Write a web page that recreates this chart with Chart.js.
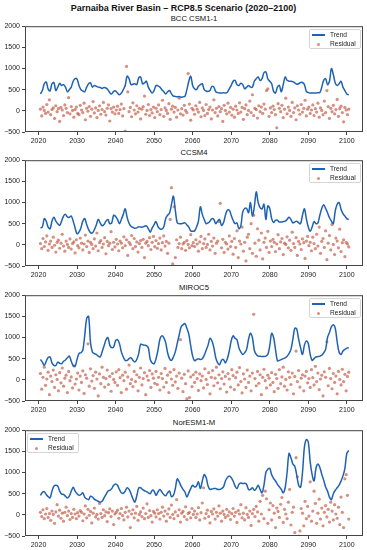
<!DOCTYPE html>
<html>
<head>
<meta charset="utf-8">
<script src="https://cdn.jsdelivr.net/npm/chart.js@4.4.0/dist/chart.umd.min.js"></script>
<style>
  html, body { margin: 0; padding: 0; background: #fff; }
  body {
    width: 367px; height: 550px; position: relative; overflow: hidden;
    font-family: "Liberation Sans", Arial, sans-serif; color: #111;
  }
  .title {
    position: absolute; left: 0; top: 2px; width: 367px; text-align: center;
    font-weight: bold; font-size: 9px; line-height: 12px;
  }
  .subtitle {
    position: absolute; left: 25px; width: 338px; text-align: center;
    font-size: 7.7px; line-height: 10px;
  }
  .panel { position: absolute; left: 0; width: 367px; height: 126px; }
  .legend {
    position: absolute; width: 52px; height: 20px; box-sizing: border-box;
    border: 1px solid #d4d4d4; border-radius: 2px; background: rgba(255, 255, 255, 0.85);
    font-size: 6.6px; color: #222;
  }
  .legend .swatch-line { position: absolute; left: 2px; top: 4px; width: 13px; height: 1.5px; }
  .legend .swatch-dot { position: absolute; left: 7px; top: 13px; width: 3px; height: 3px; border-radius: 50%; }
  .legend .txt { position: absolute; left: 20px; line-height: 8px; white-space: nowrap; }
</style>
</head>
<body>
<div class="title">Parnaiba River Basin – RCP8.5 Scenario (2020–2100)</div>
<script>
const X_TICKS = [2020, 2030, 2040, 2050, 2060, 2070, 2080, 2090, 2100];
const Y_TICKS = [-500, 0, 500, 1000, 1500, 2000];
const MODELS = ["BCC CSM1-1", "CCSM4", "MIROC5", "NorESM1-M"];
const SERIES_NAMES = ["Trend", "Residual"];

// trend sampled every half year from 2020.5, residuals every third of a year
const TREND_START = 2020.5;
const TREND_STEP = 0.5;
const RESID_START = 2020.5;
const RESID_STEP = 1 / 3;

const TREND_BCC = [
  400,
  480, 640, 680, 520, 470, 640, 670, 480, 560, 650, 600, 620, 560, 450, 500, 560, 700, 760, 750, 600,
  500, 470, 450, 560, 640, 660, 560, 600, 580, 560, 550, 530, 550, 540, 500, 430, 400, 460, 470, 420,
  380, 420, 500, 600, 820, 760, 620, 630, 640, 620, 780, 800, 640, 660, 700, 560, 480, 420, 480, 600,
  590, 560, 500, 450, 400, 450, 480, 400, 350, 340, 330, 340, 320, 330, 340, 500, 700, 820, 600, 520,
  500, 580, 620, 640, 500, 470, 460, 480, 580, 560, 450, 430, 420, 420, 430, 420, 440, 520, 600, 700,
  720, 620, 600, 650, 620, 520, 560, 600, 560, 560, 700, 760, 800, 720, 760, 900, 920, 760, 700, 640,
  460, 420, 560, 600, 450, 620, 800, 720, 700, 700, 690, 660, 630, 640, 670, 670, 620, 460, 430, 420,
  420, 420, 420, 430, 430, 560, 720, 760, 620, 700, 1000, 860, 660, 600, 640, 700, 560, 480, 400, 380
];
const TREND_CCSM4 = [
  400,
  420, 620, 560, 420, 380, 560, 650, 560, 500, 460, 560, 680, 720, 660, 650, 680, 560, 400, 260, 300,
  400, 560, 620, 480, 360, 290, 280, 360, 470, 600, 520, 450, 480, 560, 600, 500, 520, 700, 670, 600,
  500, 600, 720, 850, 650, 510, 440, 410, 390, 400, 430, 420, 420, 440, 450, 380, 300, 400, 480, 550,
  430, 380, 370, 420, 620, 700, 750, 950, 1150, 820, 520, 500, 500, 510, 520, 470, 420, 330, 320, 330,
  420, 560, 900, 720, 600, 500, 520, 560, 620, 600, 500, 560, 600, 460, 520, 700, 820, 820, 700, 580,
  500, 520, 380, 450, 780, 860, 860, 760, 1000, 680, 900, 1250, 1000, 880, 850, 960, 600, 920, 860, 620,
  530, 580, 580, 540, 540, 550, 560, 600, 650, 600, 520, 540, 560, 520, 500, 700, 850, 620, 420, 320,
  420, 550, 500, 520, 700, 860, 950, 860, 760, 640, 560, 500, 800, 960, 1000, 840, 740, 680, 620, 600
];
const TREND_MIROC5 = [
  480,
  420, 340, 440, 530, 540, 400, 340, 340, 420, 390, 380, 440, 470, 520, 560, 440, 340, 320, 480, 620,
  640, 700, 1050, 1450, 1500, 880, 660, 620, 600, 560, 540, 660, 800, 940, 1000, 820, 760, 780, 920, 950,
  860, 660, 540, 460, 460, 500, 520, 460, 420, 480, 620, 840, 830, 820, 810, 760, 480, 400, 380, 500,
  700, 960, 1040, 1000, 880, 640, 500, 460, 540, 660, 860, 1060, 1250, 1300, 1330, 1220, 1080, 800, 560, 450,
  480, 500, 480, 500, 580, 700, 820, 980, 920, 760, 520, 400, 360, 460, 480, 400, 500, 680, 920, 1040,
  980, 950, 760, 660, 600, 640, 720, 960, 1100, 1000, 700, 600, 560, 560, 550, 550, 560, 600, 800, 1100,
  1000, 720, 450, 460, 480, 500, 520, 560, 620, 720, 960, 1220, 1200, 960, 760, 600, 820, 920, 860, 600,
  460, 500, 540, 550, 560, 580, 640, 720, 1000, 1120, 1250, 1300, 1220, 900, 650, 600, 680, 720, 750, 760
];
const TREND_NORESM = [
  460,
  530, 550, 480, 430, 400, 560, 680, 700, 680, 560, 490, 480, 440, 400, 440, 560, 650, 560, 500, 460,
  480, 520, 420, 380, 360, 440, 420, 370, 340, 320, 300, 320, 400, 480, 560, 580, 620, 700, 730, 700,
  600, 520, 510, 560, 640, 600, 500, 380, 300, 450, 630, 640, 600, 570, 550, 520, 500, 580, 560, 460,
  540, 600, 540, 480, 450, 520, 560, 430, 460, 620, 850, 780, 680, 600, 540, 420, 520, 620, 700, 660,
  680, 780, 620, 800, 950, 880, 680, 600, 610, 620, 620, 600, 600, 620, 660, 800, 880, 920, 880, 800,
  680, 620, 720, 750, 740, 745, 720, 600, 600, 640, 580, 620, 700, 600, 520, 700, 1000, 1080, 1100, 950,
  860, 800, 720, 660, 600, 520, 640, 1000, 1450, 1350, 1200, 1150, 940, 700, 650, 1000, 1600, 1780, 1720, 1250,
  950, 800, 1100, 1200, 1120, 960, 820, 660, 560, 420, 360, 500, 580, 640, 700, 800, 920, 1100, 1450, 1520
];

const RESID_BCC = [
  40, -120, 90, 10, -60, 150, -30, 260, -90, 30,
  70, -180, 120, -20, 50, -250, 80, 20, -110, 140,
  60, -40, 310, -70, 100, 10, -150, 30, 90, -60,
  -90, 130, 20, -40, 180, -210, 60, -10, 100, -130,
  40, 220, -50, 70, -160, 10, 120, -80, 30, 200,
  -20, -100, 60, 140, -240, 50, -30, 90, -70, 20,
  110, -60, 30, 160, -120, 50, -480, 1050, 450, -20,
  80, -140, 190, 20, -70, 120, -30, 60, -190, 40,
  100, 350, -80, 10, 150, -110, 30, -50, 90, -160,
  60, -20, 140, -90, 30, 250, -130, 70, 10, -60,
  170, -200, 40, 110, -30, 80, -150, 20, 300, -70,
  50, -100, 130, 10, -40, 880, 160, -220, 60, 20,
  -80, 120, 40, -30, 200, -140, 70, 10, -110, 150,
  -60, 30, 90, -190, 20, 260, -40, 60, -120, 100,
  -20, 50, -250, 130, 10, -70, 180, -30, 80, -100,
  40, -150, 110, 20, -60, 190, -30, 80, -200, 50,
  140, -90, 10, 230, -40, 380, -110, 60, 30, -170,
  120, -20, 90, -60, 160, 40, 480, 520, -130, 70,
  -40, 110, 30, -90, -400, 170, 60, -20, 130, -160,
  40, 300, -70, 90, 10, -130, 200, -40, 70, -210,
  120, 20, -80, 150, -30, 60, 250, -120, 40, 90,
  -60, 20, 140, -110, 50, -30, 180, -150, 70, 10,
  -90, 230, -40, 480, 100, -180, 60, -20, 130, -70,
  30, 270, -130, 50, 110, -40, -260, 80, 20, -90,
  40
];
const RESID_CCSM4 = [
  30, -90, 150, -40, 70, 210, -130, 20, 90, -60,
  180, -10, -170, 60, 110, -80, 40, 250, -30, -150,
  90, 10, -60, 140, -100, 30, 70, -190, 120, -20,
  -70, 160, 40, -120, 20, 230, -40, 90, -180, 60,
  10, -90, 140, -30, 280, -140, 50, 100, -60, 20,
  170, -210, 80, -20, 40, 310, -110, 60, -50, 130,
  20, -140, 90, 40, -70, 190, -20, 120, -250, 60,
  10, 220, -90, 150, -40, 70, -170, 30, 100, -60,
  130, -300, 40, 80, -20, 170, -110, 60, 200, -40,
  100, -80, 30, 160, -120, 50, 210, -30, 80, -200,
  40, 600, 1350, -450, 900, -300, 120, -60, 30, 180,
  -90, 20, 60, -130, 100, 10, -70, 240, -20, 50,
  -40, 120, 20, -150, 70, 200, -90, 30, 140, -60,
  10, 250, -120, 80, -30, 160, -200, 40, 90, 550,
  980, -70, 130, -180, 60, 20, -100, 210, -40, 80,
  -220, 150, -60, 330, -300, 90, 20, 420, -150, 60,
  -380, 180, 250, -90, 500, -200, 700, 40, -270, 380,
  110, -120, 280, -330, 60, 160, -60, 320, -180, 90,
  -40, 130, 60, -160, 20, 240, -90, 70, 150, -230,
  40, 10, 190, -70, 110, -130, 300, 30, -60, 170,
  -250, 80, 20, -110, 140, 50, -320, 90, 200, -20,
  60, -140, 180, 30, -90, 250, -30, 420, -200, 80,
  150, -60, 330, -350, 40, 220, -120, 480, 10, -230,
  160, 90, -70, 370, -160, 50, 120, -280, 60, 20,
  -50
];
const RESID_MIROC5 = [
  150, -220, 60, 300, -130, 20, 180, -350, 90, -40,
  230, -180, 120, 10, -260, 170, -70, 280, -150, 40,
  110, -300, 200, -20, 70, -190, 330, -100, 20, 160,
  -240, 90, -60, 210, -320, 120, 40, 850, -150, 260,
  -30, 100, -200, 180, 20, -380, 140, -90, 300, 60,
  -170, 30, 230, -110, 80, -270, 150, 10, -60, 190,
  -130, 240, 50, -300, 110, -20, 180, -220, 70, 350,
  -90, 10, -160, 200, -40, 120, -260, 60, 280, -120,
  30, 170, -350, 90, -10, 220, -180, 140, 40, -80,
  200, -110, 60, -240, 150, 30, -170, 270, -60, 110,
  -300, 180, 20, -130, 240, -50, 90, -200, 160, 950,
  40, -280, 130, -90, -450, 210, -420, 70, -160, 120,
  -60, 180, 30, -250, 140, -20, 90, -190, 260, 10,
  -110, 170, -330, 60, 220, -140, 40, 300, -70, 120,
  -210, 30, 190, -100, 80, -290, 150, 20, -170, 240,
  100, -230, 50, 180, -120, 290, -40, -310, 140, 20,
  -180, 230, -60, 90, -260, 160, 1550, 30, -140, 200,
  -80, 120, -350, 60, 250, -20, -190, 110, 40, -120,
  170, -60, -280, 130, 30, -200, 240, -90, 70, 300,
  -150, 10, -240, 190, 60, -110, 160, -330, 80, 680,
  -40, 220, -170, 40, 120, -260, 90, 200, -70, 30,
  -180, 240, 50, -120, 320, -40, 160, -230, 20, 110,
  -380, 190, 60, 900, -140, 270, 30, -210, 150, -60,
  90, -330, 200, 10, -120, 250, -40, 130, -260, 80,
  180
];
const RESID_NORESM = [
  60, -40, 120, -90, 20, 150, -60, 30, -130, 90,
  10, -200, 70, 240, -30, 110, -80, 40, -150, 60,
  180, -20, 90, -110, 30, -60, 130, 20, -90, 50,
  -30, 100, 60, -140, 20, 210, -70, 130, -10, 80,
  -190, 40, 160, -50, 10, -100, 270, 30, -60, 120,
  -20, 70, -160, 50, 140, -40, 90, -230, 20, 60,
  110, -80, 30, 150, -20, -120, 60, 180, -50, 90,
  -300, 20, 120, -70, 40, 200, -130, 10, 70, -40,
  160, -90, 30, 260, -60, 100, -20, -170, 80, 40,
  -50, 120, 30, -100, 60, 180, -30, 90, -150, 20,
  140, -60, 230, 10, -90, 70, 360, -20, 120, -170,
  40, 80, -40, 190, -110, 30, 60, -70, 150, 10,
  90, -60, 20, 170, -120, 50, 280, 640, -80, 30,
  110, -40, -190, 80, 20, 140, -100, 60, -30, 210,
  40, -150, 90, 10, -60, 130, -20, 70, -110, 30,
  150, -30, 60, -180, 100, 20, 240, -70, 40, -120,
  170, 10, -60, 90, -250, 30, 130, -40, 200, 70,
  -150, 320, 20, 460, -90, 560, 380, -200, 120, 280,
  -120, 220, 40, -300, 160, 80, -60, 250, 410, -180,
  130, 20, -90, 300, 600, -240, 60, 180, -420, 1350,
  900, -500, -380, 150, 40, -260, 320, -90, 200, -30,
  780, -150, 90, 560, 270, -200, 40, 370, -100, 160,
  -260, 60, 220, -50, 130, -170, 300, 90, -120, 240,
  20, -80, 180, -230, 420, 60, -300, 850, 950, 460,
  -100
];

const TRENDS = [TREND_BCC, TREND_CCSM4, TREND_MIROC5, TREND_NORESM];
const RESIDUALS = [RESID_BCC, RESID_CCSM4, RESID_MIROC5, RESID_NORESM];

const PANEL_TOPS = [26, 160, 295, 430];
const PLOT_LEFT = 25;
const PLOT_RIGHT = 363;
const TOP_PAD = 6;
const TREND_COLOR = "#1f62b3";
const RESID_COLOR = "rgba(185, 70, 45, 0.6)";
const FONT = "'Liberation Sans', Arial, sans-serif";

function toPoints(values, start, step) {
  return values.map((v, i) => ({ x: start + i * step, y: v }));
}

const framePlugin = {
  id: "frame",
  afterDatasetsDraw(chart) {
    const { ctx, chartArea: a } = chart;
    ctx.save();
    ctx.strokeStyle = "#444";
    ctx.lineWidth = 1;
    ctx.strokeRect(a.left + 0.5, a.top + 0.5, a.right - a.left - 1, a.bottom - a.top - 1);
    ctx.restore();
  },
};

function addLegend(top, side) {
  const box = document.createElement("div");
  box.className = "legend";
  box.style.top = top + 3 + "px";
  if (side === "right") box.style.left = PLOT_RIGHT - 2 - 52 + "px";
  else box.style.left = PLOT_LEFT + 2 + "px";
  box.innerHTML = `
    <div class="swatch-line" style="background:${TREND_COLOR}"></div>
    <div class="txt" style="top:0.5px">${SERIES_NAMES[0]}</div>
    <div class="swatch-dot" style="background:${RESID_COLOR}"></div>
    <div class="txt" style="top:10px">${SERIES_NAMES[1]}</div>
  `;
  document.body.appendChild(box);
}

function renderPanel(i) {
  const top = PANEL_TOPS[i];

  const sub = document.createElement("div");
  sub.className = "subtitle";
  sub.style.top = top - 12 + "px";
  sub.textContent = MODELS[i];
  document.body.appendChild(sub);

  const wrap = document.createElement("div");
  wrap.className = "panel";
  wrap.style.top = top - TOP_PAD + "px";
  const canvas = document.createElement("canvas");
  canvas.width = 367;
  canvas.height = 126;
  wrap.appendChild(canvas);
  document.body.appendChild(wrap);

  new Chart(canvas, {
    type: "scatter",
    data: {
      datasets: [
        {
          label: SERIES_NAMES[0],
          data: toPoints(TRENDS[i], TREND_START, TREND_STEP),
          showLine: true,
          borderColor: TREND_COLOR,
          borderWidth: 1.5,
          pointRadius: 0,
          tension: 0.35,
        },
        {
          label: SERIES_NAMES[1],
          data: toPoints(RESIDUALS[i], RESID_START, RESID_STEP),
          backgroundColor: RESID_COLOR,
          borderWidth: 0,
          pointRadius: 1.6,
        },
      ],
    },
    options: {
      responsive: false,
      animation: false,
      events: [],
      layout: { padding: { top: TOP_PAD, right: 367 - PLOT_RIGHT, left: 0, bottom: 0 } },
      plugins: { legend: { display: false }, tooltip: { enabled: false } },
      scales: {
        x: {
          type: "linear",
          min: 2016.5,
          max: 2104.2,
          afterBuildTicks: (s) => { s.ticks = X_TICKS.map((v) => ({ value: v })); },
          afterFit: (s) => { s.height = 14; },
          border: { display: false },
          grid: { drawOnChartArea: false, drawTicks: true, tickLength: 3, color: "#444" },
          ticks: { padding: 2, color: "#222", font: { family: FONT, size: 7 }, maxRotation: 0, callback: (v) => String(v) },
        },
        y: {
          min: -500,
          max: 2000,
          afterBuildTicks: (s) => { s.ticks = Y_TICKS.map((v) => ({ value: v })); },
          afterFit: (s) => { s.width = PLOT_LEFT; },
          border: { display: false },
          grid: { drawOnChartArea: false, drawTicks: true, tickLength: 3, color: "#444" },
          ticks: { padding: 2, color: "#222", font: { family: FONT, size: 7 }, callback: (v) => (v < 0 ? "\u2212" + Math.abs(v) : String(v)) },
        },
      },
    },
    plugins: [framePlugin],
  });

  addLegend(top, i === 3 ? "left" : "right");
}

MODELS.forEach((_, i) => renderPanel(i));
</script>
</body>
</html>
